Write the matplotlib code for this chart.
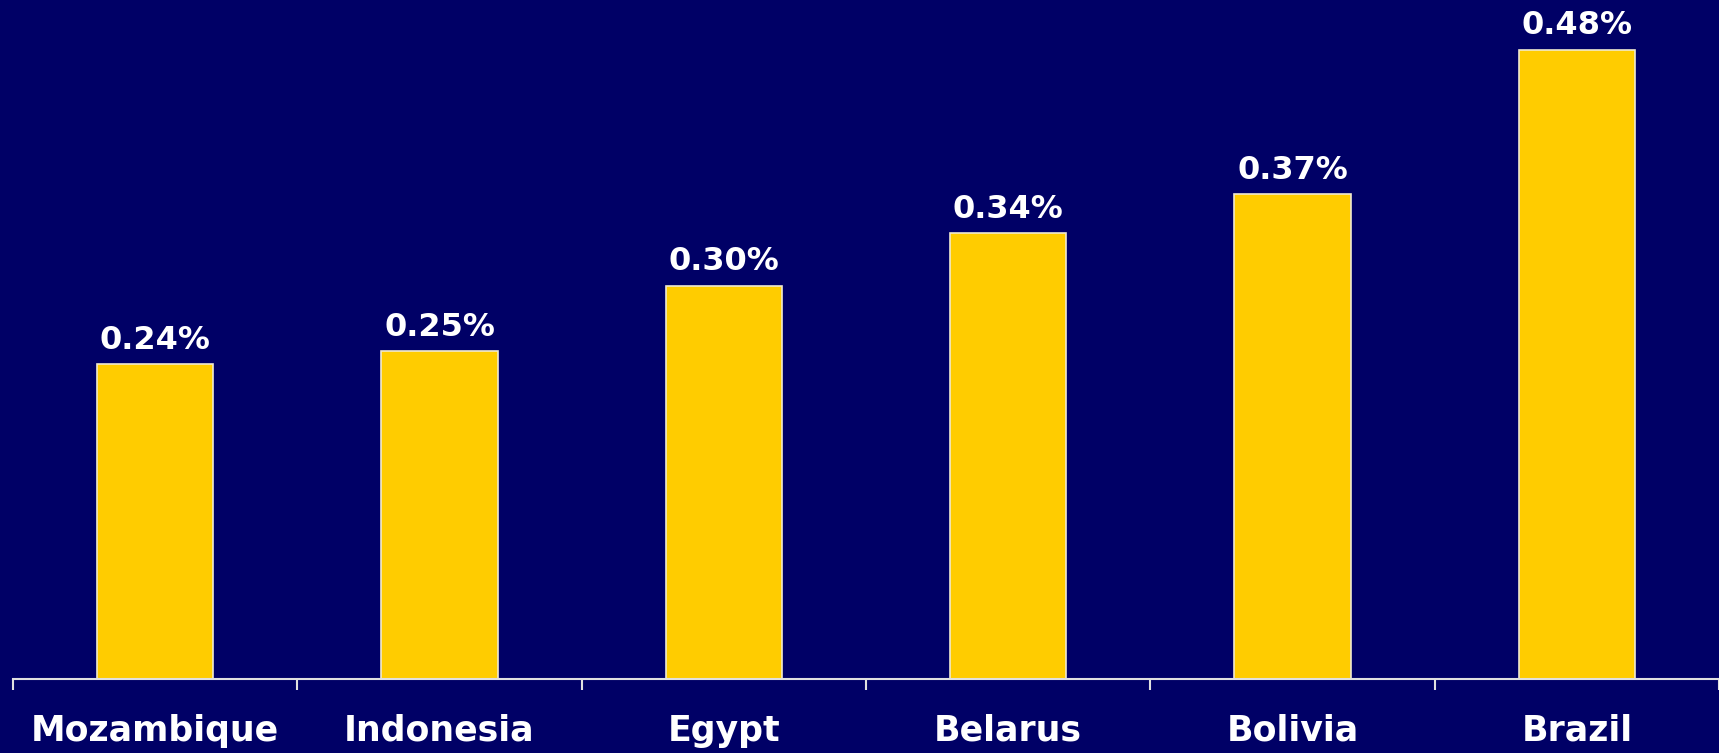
import matplotlib.pyplot as plt
import numpy as np

countries = ['Mozambique', 'Indonesia', 'Egypt', 'Belarus', 'Bolivia', 'Brazil']
values = [0.24, 0.25, 0.30, 0.34, 0.37, 0.48]
labels = ['0.24%', '0.25%', '0.30%', '0.34%', '0.37%', '0.48%']

navy = '#000066'
gold = '#FFCC00'

fig = plt.figure(figsize=(17.19, 7.53), dpi=100, facecolor=navy)
ax = fig.add_axes([13/1719, 74/753, 1706/1719, 679/753], facecolor=navy)

x = np.arange(len(countries))
bars = ax.bar(x, values, width=0.41, color=gold, edgecolor='#F0EAD0', linewidth=1.2)

for b, lab in zip(bars, labels):
    ax.annotate(lab, (b.get_x() + b.get_width()/2, b.get_height()),
                xytext=(0, 6), textcoords='offset points',
                ha='center', va='bottom', color='white',
                fontsize=23, fontweight='bold')

ax.set_xlim(-0.5, 5.48)
ax.set_ylim(0, 0.518)

ax.set_xticks(np.arange(len(countries) + 1) - 0.5, minor=False)
ax.set_xticklabels([])
ax.set_xticks(x, minor=True)
ax.set_xticklabels(countries, minor=True, color='white', fontsize=25, fontweight='bold')
ax.tick_params(axis='x', which='major', length=8, width=1.5, color='#E0E0E0')
ax.tick_params(axis='x', which='minor', length=0, pad=25)
ax.set_yticks([])

for s in ['top', 'right', 'left']:
    ax.spines[s].set_visible(False)
ax.spines['bottom'].set_color('#E0E0E0')
ax.spines['bottom'].set_linewidth(1.5)

fig.savefig('out.png', dpi=100, facecolor=navy)
